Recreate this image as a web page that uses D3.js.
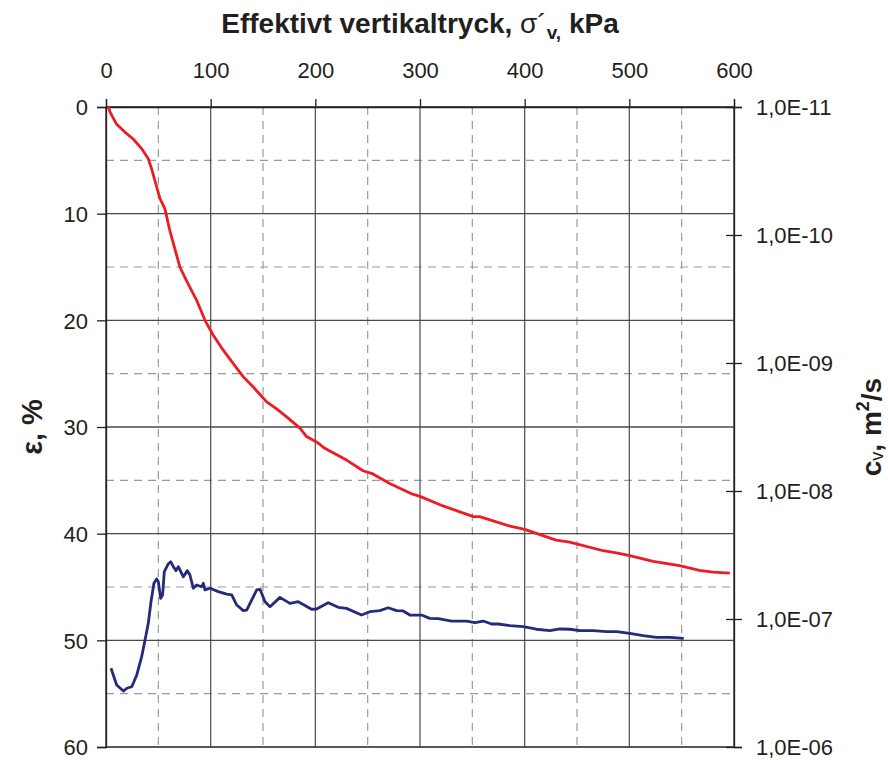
<!DOCTYPE html>
<html><head><meta charset="utf-8">
<script src="https://cdn.jsdelivr.net/npm/d3@7/dist/d3.min.js"></script>
<style>body{margin:0;background:#fff}svg{display:block}text{font-family:"Liberation Sans",Arial,sans-serif;fill:#231f20}</style>
</head><body><svg id="c" width="888" height="760"></svg>
<script>
// Strain curve (sigma'v kPa, epsilon %)
const strainStress = [2.2,4,10,18,26,34,40.4,43.6,48.4,51.6,56.3,61,70.6,77,86.5,94.6,102.5,112,121.6,131.2,140.7,153.5,163,172.6,185.3,191.6,202.7,209,229.8,245.6,255,271,293,300,322,351,357,386,400,430,443,475,487.6,500.4,522.7,548,567,580,596];
const strainValues = [0,0.5,1.6,2.35,3.0,3.9,4.85,5.8,7.5,8.6,9.55,11.6,15,16.3,18.1,20,21.4,22.8,24.05,25.3,26.25,27.65,28.3,29.05,30.1,30.9,31.5,32.0,33.1,34.1,34.4,35.3,36.3,36.5,37.4,38.4,38.4,39.3,39.6,40.6,40.8,41.6,41.8,42.05,42.6,43.0,43.45,43.6,43.7];
// cv curve (sigma'v kPa, log10 cv m2/s)
const cvStress = [4.8,10.2,16.6,19.9,24.6,29.4,34.1,37.3,40.4,43,45.8,48.4,50,52.2,54.1,55.7,59.5,61.8,64.3,66.9,69.1,73.9,77.7,80.2,83.4,86.6,91.4,93,94.6,99.4,107.3,115.3,120.1,124.9,131.2,134.4,144,147.2,151.9,156.7,166.2,175.7,183.7,196.4,201.2,212.3,221.9,229.8,244.1,252.1,261.6,269.6,277.6,283.9,290.3,301.5,309.4,317.4,330.2,344.5,352.5,360.4,368.4,374.7,385.9,398.6,411.3,424.1,433.6,443.2,452.7,465.4,478.2,487.7,500.4,513.2,525.9,538.7,552];
const cvLog = [-6.615,-6.484,-6.437,-6.459,-6.471,-6.563,-6.706,-6.836,-6.966,-7.135,-7.279,-7.313,-7.292,-7.162,-7.188,-7.370,-7.430,-7.448,-7.409,-7.378,-7.409,-7.330,-7.378,-7.344,-7.240,-7.266,-7.252,-7.279,-7.227,-7.240,-7.214,-7.195,-7.188,-7.109,-7.065,-7.070,-7.227,-7.232,-7.135,-7.096,-7.169,-7.122,-7.135,-7.076,-7.078,-7.127,-7.091,-7.083,-7.031,-7.057,-7.065,-7.088,-7.065,-7.063,-7.031,-7.031,-7.005,-7.003,-6.984,-6.984,-6.971,-6.984,-6.961,-6.961,-6.948,-6.940,-6.920,-6.909,-6.922,-6.920,-6.909,-6.909,-6.901,-6.901,-6.888,-6.870,-6.857,-6.857,-6.849];
const xTicks = [0,100,200,300,400,500,600];
const yTicks = [0,10,20,30,40,50,60];
const cvTicks = [1e-11,1e-10,1e-9,1e-8,1e-7,1e-6];
const cvTickLabels = ["1,0E-11","1,0E-10","1,0E-09","1,0E-08","1,0E-07","1,0E-06"];

const L=106,R=734,T=107,B=747;
const svg=d3.select("#c");
const x=d3.scaleLinear().domain([0,600]).range([L,R]);
const y=d3.scaleLinear().domain([0,60]).range([T,B]);
const yc=d3.scaleLog().domain([1e-11,1e-6]).range([T,B]);

const g=svg.append("g");
// dashed grid
const dashX=d3.range(50,600,100), dashY=d3.range(5,60,10);
g.selectAll(".dx").data(dashX).join("line").attr("x1",d=>x(d)).attr("x2",d=>x(d)).attr("y1",T).attr("y2",B)
 .attr("stroke","#9a9a9a").attr("stroke-width",1.2).attr("stroke-dasharray","8,6");
g.selectAll(".dy").data(dashY).join("line").attr("y1",d=>y(d)).attr("y2",d=>y(d)).attr("x1",L).attr("x2",R)
 .attr("stroke","#9a9a9a").attr("stroke-width",1.2).attr("stroke-dasharray","8,6");
// solid grid
g.selectAll(".sx").data(xTicks).join("line").attr("x1",d=>x(d)).attr("x2",d=>x(d)).attr("y1",T).attr("y2",B)
 .attr("stroke",d=>(d===0||d===600)?"#231f20":"#5a5a5a").attr("stroke-width",1.3);
g.selectAll(".sy").data(yTicks).join("line").attr("y1",d=>y(d)).attr("y2",d=>y(d)).attr("x1",L).attr("x2",R)
 .attr("stroke",d=>(d===0||d===60)?"#231f20":"#4a4a4a").attr("stroke-width",1.3);

// axes
const axTop=d3.axisTop(x).tickValues(xTicks).tickSize(8).tickPadding(21);
const ga=svg.append("g").attr("transform",`translate(0,${T})`).call(axTop);
const axLeft=d3.axisLeft(y).tickValues(yTicks).tickSize(9).tickPadding(9);
const gl=svg.append("g").attr("transform",`translate(${L},0)`).call(axLeft);
const axRight=d3.axisRight(yc).tickValues(cvTicks).tickSize(8).tickPadding(14).tickFormat((d,i)=>cvTickLabels[i]);
const gr=svg.append("g").attr("transform",`translate(${R},0)`).call(axRight);
gr.selectAll(".tick line").attr("x1",-8);
[ga,gl,gr].forEach(a=>{a.select(".domain").attr("stroke","#231f20").attr("stroke-width",1.3);
 a.selectAll(".tick line").attr("stroke","#231f20").attr("stroke-width",1.3);
 a.selectAll("text").attr("font-size",22).attr("fill","#231f20").attr("font-family","Liberation Sans, Arial, sans-serif");});
gl.selectAll("text").attr("dy","0.36em");
gr.selectAll("text").attr("dy","0.36em");

// curves
const lineS=d3.line().x(d=>x(d[0])).y(d=>y(d[1]));
svg.append("path").datum(strainStress.map((s,i)=>[s,strainValues[i]])).attr("d",lineS)
 .attr("fill","none").attr("stroke","#ed1c24").attr("stroke-width",2.8).attr("stroke-linejoin","round");
const lineC=d3.line().x(d=>x(d[0])).y(d=>yc(Math.pow(10,d[1])));
svg.append("path").datum(cvStress.map((s,i)=>[s,cvLog[i]])).attr("d",lineC)
 .attr("fill","none").attr("stroke","#262a78").attr("stroke-width",2.8).attr("stroke-linejoin","round");

// titles
const t=svg.append("text").attr("x",420).attr("y",33).attr("text-anchor","middle").attr("font-size",28).attr("font-weight","bold");
t.append("tspan").text("Effektivt vertikaltryck, ");
t.append("tspan").attr("font-weight","normal").text("σ´");
t.append("tspan").attr("font-size",19).attr("dy",6).text("v,");
t.append("tspan").attr("dy",-6).text(" kPa");

svg.append("text").attr("transform","translate(42,427) rotate(-90)").attr("text-anchor","middle")
 .attr("font-size",29).attr("font-weight","bold").text("ε, %");
const r=svg.append("text").attr("transform","translate(881,427) rotate(-90)").attr("text-anchor","middle")
 .attr("font-size",28).attr("font-weight","bold");
r.append("tspan").text("c");
r.append("tspan").attr("font-size",18).attr("font-weight","normal").attr("dy",2).text("v");
r.append("tspan").attr("dy",-2).text(", m");
r.append("tspan").attr("font-size",18).attr("dy",-12).text("2");
r.append("tspan").attr("dy",12).text("/s");
</script></body></html>
